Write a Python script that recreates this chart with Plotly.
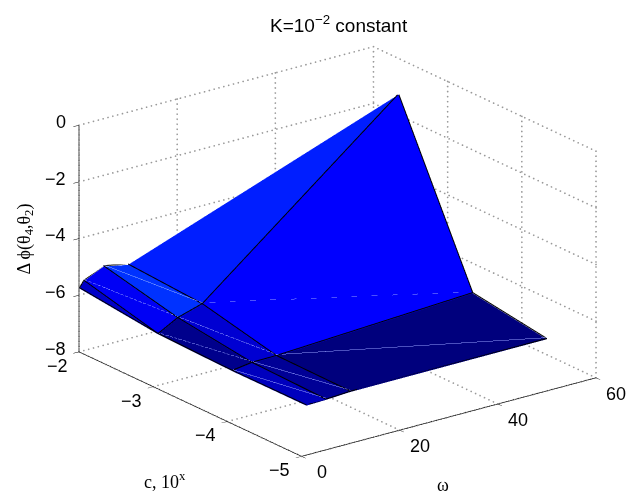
import plotly.graph_objects as go

# Data
omega = [0.1, 1, 5, 10, 50]
c_vals = [-2, -3, -4, -5]
z_rows = [
    [-5.77, -5.55, -5.22, -5.39, None],
    [None, -6.20, -5.82, -5.56, 0.0],
    [None, -6.27, -6.17, -6.16, -5.79],
    [None, -6.26, -6.24, -6.19, -6.18],
]
# face colours per grid cell (rows: c interval, cols: omega interval)
face_colors = [
    ["#0000c8", "#0000f5", "#0032ff", "#001eff"],
    [None, "#00008c", "#0000d2", "#0000ff"],
    [None, "#0000be", "#000096", "#00007d"],
]
z_ticks = [-8, -6, -4, -2, 0]
w_ticks = [0, 20, 40, 60]
c_ticks = [-5, -4, -3, -2]
z_labels = ["−8", "−6", "−4", "−2", "0"]
w_labels = ["0", "20", "40", "60"]
c_labels = ["−5", "−4", "−3", "−2"]

xs, ys, zs = [], [], []
nw = len(omega)
for i, c in enumerate(c_vals):
    for j, w in enumerate(omega):
        v = z_rows[i][j]
        xs.append(w); ys.append(c); zs.append(v if v is not None else -6.0)
def vid(i, j): return i * nw + j
def ok(i, j): return z_rows[i][j] is not None
I, J, K, FC = [], [], [], []
for i in range(len(c_vals) - 1):
    for j in range(nw - 1):
        col = face_colors[i][j]
        corners = [(i, j), (i, j + 1), (i + 1, j + 1), (i + 1, j)]
        present = [p for p in corners if ok(*p)]
        if len(present) < 3:
            continue
        if len(present) == 3:
            I.append(vid(*present[0])); J.append(vid(*present[1])); K.append(vid(*present[2])); FC.append(col)
        else:
            a, b, d_, e = [vid(*p) for p in corners]
            I += [a, a]; J += [b, d_]; K += [d_, e]; FC += [col, col]

mesh = go.Mesh3d(x=xs, y=ys, z=zs, i=I, j=J, k=K, facecolor=FC, flatshading=True,
                 lighting=dict(ambient=1, diffuse=0, specular=0, fresnel=0),
                 hoverinfo="skip", showscale=False)

lift = 0.03  # keeps lines from fighting with the faces
ex, ey, ez = [], [], []
def add(seq):
    seq = [p for p in seq if ok(*p)]
    for (i, j) in seq:
        ex.append(omega[j]); ey.append(c_vals[i]); ez.append(z_rows[i][j] + lift)
    ex.append(None); ey.append(None); ez.append(None)
for i in range(len(c_vals)):
    add([(i, j) for j in range(nw)])
for j in range(nw):
    add([(i, j) for i in range(len(c_vals))])
add([(0, 0), (1, 1)])
edges = go.Scatter3d(x=ex, y=ey, z=ez, mode="lines", line=dict(color="black", width=2),
                     hoverinfo="skip", showlegend=False)

dx, dy, dz = [], [], []
for i in range(len(c_vals) - 1):
    for j in range(1, nw - 1):
        if not (ok(i, j) and ok(i + 1, j + 1) and ok(i, j + 1)):
            continue
        for (p, q) in [(i, j), (i + 1, j + 1)]:
            dx.append(omega[q]); dy.append(c_vals[p]); dz.append(z_rows[p][q] + lift * 2)
        dx.append(None); dy.append(None); dz.append(None)
diag = go.Scatter3d(x=dx, y=dy, z=dz, mode="lines", line=dict(color="rgba(150,160,255,0.6)", width=1),
                    hoverinfo="skip", showlegend=False)

# dotted grid on walls + floor, drawn as fine dots
gx, gy, gz = [], [], []
def seg(p, q, n):
    for t in range(n + 1):
        f = t / n
        gx.append(p[0] + (q[0] - p[0]) * f)
        gy.append(p[1] + (q[1] - p[1]) * f)
        gz.append(p[2] + (q[2] - p[2]) * f)
for z in z_ticks:
    seg((0, -2, z), (60, -2, z), 61)
    seg((60, -2, z), (60, -5, z), 50)
for w in w_ticks:
    seg((w, -2, -8), (w, -2, 0), 45)
    seg((w, -5, -8), (w, -2, -8), 50)
for c in c_ticks:
    seg((60, c, -8), (60, c, 0), 45)
    seg((0, c, -8), (60, c, -8), 61)
grid = go.Scatter3d(x=gx, y=gy, z=gz, mode="markers", marker=dict(color="#999999", size=1, line=dict(width=0)),
                    hoverinfo="skip", showlegend=False)

axis_style = dict(showgrid=False, showline=True, linecolor="black", linewidth=1.5,
                  ticks="outside", ticklen=7, tickcolor="black", tickwidth=1, zeroline=False,
                  showbackground=False, showspikes=False, showticklabels=False, title=dict(text=""))

tick_font = dict(family="Liberation Sans", size=18, color="black")
scene_notes = []
for v, t in zip(z_ticks, z_labels):
    scene_notes.append(dict(x=0, y=-2, z=v, text=t, showarrow=False, font=tick_font,
                            xanchor="right", yanchor="middle", xshift=-11, yshift=3))
for v, t in zip(c_ticks, c_labels):
    scene_notes.append(dict(x=0, y=v, z=-8, text=t, showarrow=False, font=tick_font,
                            xanchor="center", yanchor="middle", xshift=-22, yshift=-14))
for v, t in zip(w_ticks, w_labels):
    scene_notes.append(dict(x=v, y=-5, z=-8, text=t, showarrow=False, font=tick_font,
                            xanchor="center", yanchor="middle", xshift=20, yshift=-16))

fig = go.Figure([grid, mesh, edges, diag])
d = 1.38
U = 371 / 245 * 487 / 479 / 371
fig.update_layout(
    width=628, height=491, margin=dict(l=0, r=0, t=0, b=0), paper_bgcolor="white", showlegend=False,
    scene=dict(
        domain=dict(x=[47 / 628, 1], y=[0, 1 - 11.8 / 491]),
        aspectmode="manual", aspectratio=dict(x=U * 371, y=U * 372, z=U * 243.8),
        camera=dict(projection=dict(type="orthographic"), up=dict(x=0, y=0, z=1),
                    center=dict(x=0, y=0, z=0),
                    eye=dict(x=-0.563 * d, y=-0.747 * d, z=0.354 * d)),
        xaxis=dict(range=[0, 60], tickvals=w_ticks, **axis_style),
        yaxis=dict(range=[-5, -2], tickvals=c_ticks, **axis_style),
        zaxis=dict(range=[-8, 0], tickvals=z_ticks, **axis_style),
        annotations=scene_notes,
    ),
    annotations=[
        dict(text="K=10<sup>−2</sup> constant", x=338.5 / 628, y=1 - 24 / 491, xref="paper", yref="paper",
             xanchor="center", yanchor="middle", showarrow=False,
             font=dict(family="Liberation Sans", size=19, color="black")),
        dict(text="c, 10<sup>x</sup>", x=165 / 628, y=1 - 480 / 491, xref="paper", yref="paper",
             xanchor="center", yanchor="middle", showarrow=False,
             font=dict(family="Liberation Serif", size=18, color="black")),
        dict(text="ω", x=443 / 628, y=1 - 485 / 491, xref="paper", yref="paper",
             xanchor="center", yanchor="middle", showarrow=False,
             font=dict(family="Liberation Serif", size=18, color="black")),
        dict(text="Δ ϕ(θ<sub>4</sub>,θ<sub>2</sub>)", x=25 / 628, y=1 - 239.5 / 491, xref="paper", yref="paper",
             xanchor="center", yanchor="middle", textangle=-90, showarrow=False,
             font=dict(family="Liberation Serif", size=18, color="black")),
    ],
)
fig.write_html("out.html", post_script="document.body.style.margin='0';", config=dict(displayModeBar=False))
